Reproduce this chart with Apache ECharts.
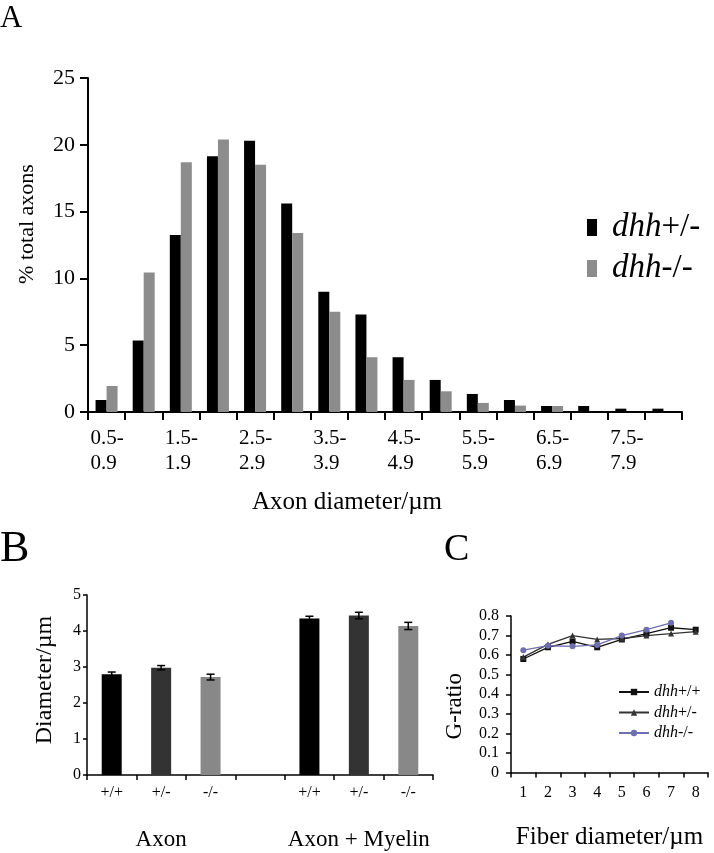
<!DOCTYPE html>
<html>
<head>
<meta charset="utf-8">
<script src="https://cdn.jsdelivr.net/npm/echarts@6/dist/echarts.min.js"></script>
<style>html,body{margin:0;padding:0;background:#fff}#chart{width:714px;height:853px}</style>
</head>
<body>
<div id="chart"></div>
<script>
// ---- Panel A data ----
const aCategories = ['0.5-0.9','1.0-1.4','1.5-1.9','2.0-2.4','2.5-2.9','3.0-3.4','3.5-3.9','4.0-4.4','4.5-4.9','5.0-5.4','5.5-5.9','6.0-6.4','6.5-6.9','7.0-7.4','7.5-7.9','8.0-8.4'];
const aHet  = [0.9, 5.35, 13.25, 19.15, 20.3, 15.6, 9.0, 7.3, 4.1, 2.4, 1.35, 0.9, 0.45, 0.45, 0.25, 0.25];
const aNull = [1.95, 10.45, 18.7, 20.4, 18.5, 13.4, 7.5, 4.1, 2.4, 1.55, 0.68, 0.48, 0.45, 0, 0, 0];
const aYTicks = [0, 5, 10, 15, 20, 25];
// ---- Panel B data ----
const bCategories = ['+/+', '+/-', '-/-', '', '+/+', '+/-', '-/-'];
const bGroups = ['', 'Axon', '', '', '', 'Axon + Myelin', ''];
const bValues = [2.80, 2.98, 2.72, null, 4.35, 4.43, 4.14];
const bErrors = [0.06, 0.06, 0.08, null, 0.06, 0.09, 0.10];
// ---- Panel C data ----
const cCategories = ['1', '2', '3', '4', '5', '6', '7', '8'];
const cWT   = [0.58, 0.64, 0.67, 0.64, 0.68, 0.71, 0.74, 0.73];
const cHet  = [0.59, 0.655, 0.70, 0.68, 0.685, 0.70, 0.71, 0.72];
const cNull = [0.625, 0.648, 0.645, 0.652, 0.70, 0.73, 0.765, null];

const F = 'Liberation Serif';
const bColors = ['#000000', '#333333', '#888888'];

const chart = echarts.init(document.getElementById('chart'), null, {renderer: 'canvas'});

function axisBase(w) {
  return {
    axisLine: {show: true, lineStyle: {color: '#000', width: w}},
    axisTick: {show: true, inside: false, lineStyle: {color: '#000', width: w}},
    splitLine: {show: false}
  };
}

const legendRich = {
  i: {fontFamily: F, fontStyle: 'italic', color: '#000'},
  n: {fontFamily: F, color: '#000'}
};

const option = {
  animation: false,
  backgroundColor: '#fff',
  title: [
    {text: 'A', left: 0, top: 3, padding: 0, textStyle: {fontFamily: F, fontSize: 31, fontWeight: 'normal', color: '#000'}},
    {text: 'B', left: 0, top: 527, padding: 0, textStyle: {fontFamily: F, fontSize: 44, fontWeight: 'normal', color: '#000'}},
    {text: 'C', left: 444, top: 531, padding: 0, textStyle: {fontFamily: F, fontSize: 38, fontWeight: 'normal', color: '#000'}}
  ],
  legend: [
    {
      data: ['dhh+/-', 'dhh-/-'],
      left: 587, top: 211, orient: 'vertical', icon: 'rect', padding: 0,
      itemWidth: 10, itemHeight: 17, itemGap: 8,
      formatter: n => '{i|dhh}{n|' + n.trim().slice(3) + '}',
      textStyle: {fontFamily: F, fontSize: 33, lineHeight: 32, padding: [0, 0, 0, 10],
        rich: {i: Object.assign({fontSize: 33}, legendRich.i), n: Object.assign({fontSize: 33}, legendRich.n)}}
    },
    {
      data: ['dhh+/+', 'dhh+/- ', 'dhh-/- '],
      left: 618, top: 684, orient: 'vertical', padding: 0,
      itemWidth: 30, itemHeight: 8, itemGap: 4.5,
      formatter: n => '{i|dhh}{n|' + n.trim().slice(3) + '}',
      textStyle: {fontFamily: F, fontSize: 16, lineHeight: 16,
        rich: {i: Object.assign({fontSize: 16}, legendRich.i), n: Object.assign({fontSize: 16}, legendRich.n)}}
    }
  ],
  grid: [
    {left: 88, right: 32, top: 78, bottom: 441},
    {left: 87, right: 281, top: 595, bottom: 78},
    {left: 511, right: 6, top: 616, bottom: 80.5}
  ],
  xAxis: [
    Object.assign(axisBase(2), {
      gridIndex: 0, type: 'category', data: aCategories,
      axisTick: {show: true, interval: 0, length: 8, lineStyle: {color: '#000', width: 2}},
      axisLabel: {
        interval: 1, margin: 14, color: '#000', fontFamily: F, fontSize: 21, lineHeight: 25,
        formatter: v => { const p = v.split('-'); return '{a|' + p[0] + '-}\n{a|' + p[1] + '}'; },
        rich: {a: {width: 32, align: 'left', fontFamily: F, fontSize: 21, lineHeight: 25, color: '#000'}}
      },
      name: 'Axon diameter/\u00b5m', nameLocation: 'middle', nameGap: 78,
      nameTextStyle: {fontFamily: F, fontSize: 25, color: '#000', padding: [0, 76, 0, 0]}
    }),
    Object.assign(axisBase(1.5), {
      gridIndex: 1, type: 'category', data: bCategories, position: 'bottom',
      axisTick: {show: true, interval: 0, length: 5, lineStyle: {color: '#000', width: 1.5}},
      axisLabel: {interval: 0, margin: 10, color: '#000', fontFamily: F, fontSize: 16}
    }),
    {
      gridIndex: 1, type: 'category', data: bGroups, position: 'bottom', offset: 0,
      axisLine: {show: false}, axisTick: {show: false}, splitLine: {show: false},
      axisLabel: {interval: 0, margin: 53, color: '#000', fontFamily: F, fontSize: 23}
    },
    Object.assign(axisBase(1.5), {
      gridIndex: 2, type: 'category', data: cCategories,
      axisTick: {show: true, interval: 0, length: 5, lineStyle: {color: '#000', width: 1.5}},
      axisLabel: {interval: 0, margin: 12, color: '#000', fontFamily: F, fontSize: 16},
      name: 'Fiber diameter/\u00b5m', nameLocation: 'middle', nameGap: 52,
      nameTextStyle: {fontFamily: F, fontSize: 25, color: '#000'}
    })
  ],
  yAxis: [
    Object.assign(axisBase(2), {
      gridIndex: 0, type: 'value', min: aYTicks[0], max: aYTicks[aYTicks.length - 1], interval: 5,
      axisTick: {show: true, length: 8, lineStyle: {color: '#000', width: 2}},
      axisLabel: {margin: 13, color: '#000', fontFamily: F, fontSize: 22},
      name: '% total axons', nameLocation: 'middle', nameRotate: 90, nameGap: 50,
      nameTextStyle: {fontFamily: F, fontSize: 22, color: '#000', padding: [0, 0, 0, 42]}
    }),
    Object.assign(axisBase(1.5), {
      gridIndex: 1, type: 'value', min: 0, max: 5, interval: 1,
      axisTick: {show: true, length: 4, lineStyle: {color: '#000', width: 1.5}},
      axisLabel: {margin: 6, color: '#000', fontFamily: F, fontSize: 16},
      name: 'Diameter/\u00b5m', nameLocation: 'middle', nameRotate: 90, nameGap: 30,
      nameTextStyle: {fontFamily: F, fontSize: 24, color: '#000', padding: [0, 0, 0, 10]}
    }),
    Object.assign(axisBase(1.5), {
      gridIndex: 2, type: 'value', min: 0, max: 0.8, interval: 0.1,
      axisTick: {show: true, length: 5, lineStyle: {color: '#000', width: 1.5}},
      axisLabel: {margin: 12, color: '#000', fontFamily: F, fontSize: 16},
      name: 'G-ratio', nameLocation: 'middle', nameRotate: 90, nameGap: 45,
      nameTextStyle: {fontFamily: F, fontSize: 23, color: '#000', padding: [0, 24, 0, 0]}
    })
  ],
  series: [
    {name: 'dhh+/-', type: 'bar', xAxisIndex: 0, yAxisIndex: 0, data: aHet,
      barWidth: 11, barGap: '0%', itemStyle: {color: '#000'}},
    {name: 'dhh-/-', type: 'bar', xAxisIndex: 0, yAxisIndex: 0, data: aNull,
      barWidth: 11, barGap: '0%', itemStyle: {color: '#8c8c8c'}},
    {name: 'B', type: 'bar', xAxisIndex: 1, yAxisIndex: 1, barWidth: 20,
      data: bValues.map((v, i) => v == null ? null : {value: v, itemStyle: {color: bColors[i % 4]}})},
    {name: 'Berr', type: 'custom', xAxisIndex: 1, yAxisIndex: 1, z: 5,
      data: bValues.map((v, i) => [i, v, bErrors[i]]).filter(d => d[1] != null),
      renderItem: (params, api) => {
        const x = api.value(0), v = api.value(1), e = api.value(2);
        const t = api.coord([x, v + e]), b = api.coord([x, v - e]);
        const w = 4;
        const st = {stroke: '#000', lineWidth: 1.5};
        return {type: 'group', children: [
          {type: 'line', shape: {x1: t[0], y1: t[1], x2: b[0], y2: b[1]}, style: st},
          {type: 'line', shape: {x1: t[0] - w, y1: t[1], x2: t[0] + w, y2: t[1]}, style: st},
          {type: 'line', shape: {x1: b[0] - w, y1: b[1], x2: b[0] + w, y2: b[1]}, style: st}
        ]};
      }},
    {name: 'dhh+/+', type: 'line', xAxisIndex: 3, yAxisIndex: 2, data: cWT,
      symbol: 'rect', symbolSize: 6, lineStyle: {color: '#111', width: 1.3}, itemStyle: {color: '#111'}},
    {name: 'dhh+/- ', type: 'line', xAxisIndex: 3, yAxisIndex: 2, data: cHet,
      symbol: 'triangle', symbolSize: 6, lineStyle: {color: '#333', width: 1.3}, itemStyle: {color: '#333'}},
    {name: 'dhh-/- ', type: 'line', xAxisIndex: 3, yAxisIndex: 2, data: cNull,
      symbol: 'circle', symbolSize: 6, lineStyle: {color: '#6f6fb0', width: 1.3}, itemStyle: {color: '#6f6fb0'}}
  ]
};
chart.setOption(option);
</script>
</body>
</html>
